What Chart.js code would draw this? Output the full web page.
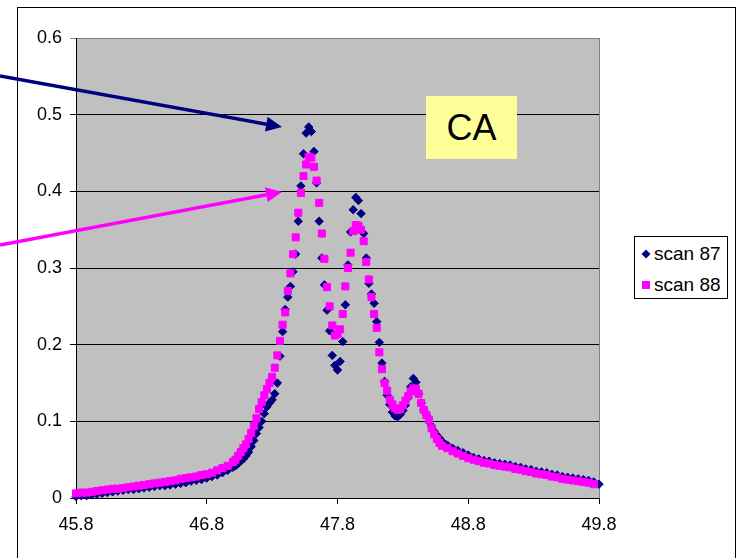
<!DOCTYPE html>
<html>
<head>
<meta charset="utf-8">
<script src="https://cdn.jsdelivr.net/npm/chart.js@4.4.0/dist/chart.umd.min.js"></script>
<style>
  body { margin: 0; background: #fff; width: 738px; height: 558px; overflow: hidden; position: relative; font-family: Arial, "Liberation Sans", sans-serif; }
  #frame { position: absolute; left: 17px; top: 7px; width: 719px; height: 600px; border: 1px solid #000; box-sizing: border-box; }
  #chart { position: absolute; left: 0; top: 0; }
  #caBox { position: absolute; left: 426px; top: 96px; width: 91px; height: 63px; background: #ffff99; font-size: 36px; line-height: 63px; text-align: center; color: #000; }
  #legend { position: absolute; left: 634px; top: 236px; width: 94px; height: 63px; border: 1px solid #000; box-sizing: border-box; background: #fff; font-size: 19px; color: #000; }
  #legend .item { position: absolute; left: 6px; height: 20px; line-height: 20px; white-space: nowrap; }
  #legend svg { vertical-align: middle; margin-right: 3px; position: relative; top: -1px; }
  #arrows { position: absolute; left: 0; top: 0; }
</style>
</head>
<body>
<div id="frame"></div>
<canvas id="chart" width="738" height="558"></canvas>
<div id="caBox">CA</div>
<div id="legend">
  <div class="item" style="top:7px"><svg width="10" height="10"><polygon points="5,0.5 9.5,5 5,9.5 0.5,5" fill="#000080"/></svg>scan 87</div>
  <div class="item" style="top:38px"><svg width="10" height="10"><rect x="1" y="1" width="8" height="8" fill="#ff00ff"/></svg>scan 88</div>
</div>
<svg id="arrows" width="738" height="558">
  <line x1="0" y1="76" x2="268" y2="124.5" stroke="#000080" stroke-width="3.5"/>
  <polygon points="282,127 265,131.6 267.6,116.8" fill="#000080"/>
  <line x1="0" y1="245" x2="268" y2="194.5" stroke="#ff00ff" stroke-width="3.5"/>
  <polygon points="282,192 267.7,202.1 264.9,187.3" fill="#ff00ff"/>
</svg>
<script>
// Ejes
const xTicks = [45.8, 46.8, 47.8, 48.8, 49.8];
const yTicks = [0, 0.1, 0.2, 0.3, 0.4, 0.5, 0.6];

// Posiciones (eje x)
const scan88X = [
  45.80, 45.84, 45.88, 45.92, 45.96, 46.00, 46.04, 46.08, 46.12, 46.16,
  46.20, 46.24, 46.28, 46.32, 46.36, 46.40, 46.44, 46.48, 46.52, 46.56,
  46.60, 46.64, 46.68, 46.72, 46.76, 46.80, 46.84, 46.88, 46.92, 46.96,
  47.00, 47.02, 47.04, 47.06, 47.08, 47.10, 47.12, 47.14, 47.16, 47.18,
  47.20, 47.22, 47.24, 47.26, 47.28, 47.30, 47.32, 47.34, 47.36, 47.38,
  47.40, 47.42, 47.44, 47.46, 47.48, 47.50, 47.52, 47.54, 47.56, 47.58,
  47.60, 47.62, 47.64, 47.66, 47.68, 47.70, 47.72, 47.74, 47.76, 47.78,
  47.80, 47.82, 47.84, 47.86, 47.88, 47.90, 47.92, 47.94, 47.96, 47.98,
  48.00, 48.02, 48.04, 48.06, 48.08, 48.10, 48.12, 48.14, 48.16, 48.18,
  48.20, 48.22, 48.24, 48.26, 48.28, 48.30, 48.32, 48.34, 48.36, 48.38,
  48.40, 48.42, 48.44, 48.46, 48.48, 48.50, 48.52, 48.54, 48.56, 48.58,
  48.60, 48.64, 48.68, 48.72, 48.76, 48.80, 48.84, 48.88, 48.92, 48.96,
  49.00, 49.04, 49.08, 49.12, 49.16, 49.20, 49.24, 49.28, 49.32, 49.36,
  49.40, 49.44, 49.48, 49.52, 49.56, 49.60, 49.64, 49.68, 49.72, 49.76
];
const scan87X = [...scan88X, 49.80];

// scan 88 (magenta)
const scan88Y = [
  0.006, 0.007, 0.007, 0.008, 0.009, 0.010, 0.011, 0.012, 0.012, 0.013,
  0.014, 0.015, 0.016, 0.017, 0.018, 0.019, 0.020, 0.021, 0.022, 0.023,
  0.025, 0.026, 0.027, 0.028, 0.030, 0.031, 0.033, 0.036, 0.039, 0.042,
  0.047, 0.050, 0.055, 0.060, 0.065, 0.070, 0.077, 0.085, 0.094, 0.104,
  0.116, 0.125, 0.134, 0.142, 0.150, 0.158, 0.170, 0.186, 0.205, 0.226,
  0.242, 0.270, 0.293, 0.318, 0.340, 0.372, 0.398, 0.420, 0.435, 0.445,
  0.444, 0.432, 0.414, 0.385, 0.345, 0.312, 0.275, 0.250, 0.225, 0.212,
  0.214, 0.220, 0.240, 0.276, 0.300, 0.320, 0.348, 0.356, 0.355, 0.350,
  0.335, 0.308, 0.285, 0.262, 0.240, 0.222, 0.190, 0.168, 0.150, 0.140,
  0.128, 0.122, 0.117, 0.115, 0.116, 0.121, 0.127, 0.133, 0.139, 0.143,
  0.142, 0.136, 0.124, 0.115, 0.108, 0.102, 0.091, 0.083, 0.077, 0.072,
  0.068, 0.065, 0.061, 0.058, 0.055, 0.052, 0.050, 0.048, 0.046, 0.045,
  0.043, 0.042, 0.041, 0.040, 0.038, 0.037, 0.035, 0.034, 0.032, 0.031,
  0.030, 0.028, 0.027, 0.025, 0.024, 0.023, 0.022, 0.021, 0.020, 0.018
];

// scan 87 (azul marino)
const scan87Y = [
  0.002, 0.003, 0.003, 0.004, 0.005, 0.006, 0.007, 0.008, 0.009, 0.010,
  0.011, 0.011, 0.012, 0.013, 0.014, 0.015, 0.016, 0.016, 0.017, 0.018,
  0.019, 0.020, 0.022, 0.023, 0.024, 0.026, 0.028, 0.030, 0.033, 0.036,
  0.040, 0.042, 0.045, 0.048, 0.051, 0.055, 0.060, 0.067, 0.075, 0.084,
  0.092, 0.100, 0.110, 0.119, 0.124, 0.128, 0.136, 0.150, 0.185, 0.217,
  0.246, 0.262, 0.276, 0.295, 0.318, 0.361, 0.407, 0.449, 0.476, 0.484,
  0.478, 0.452, 0.411, 0.361, 0.313, 0.278, 0.245, 0.218, 0.186, 0.173,
  0.167, 0.178, 0.204, 0.252, 0.304, 0.347, 0.376, 0.392, 0.388, 0.371,
  0.345, 0.313, 0.280, 0.266, 0.254, 0.230, 0.203, 0.176, 0.152, 0.134,
  0.122, 0.112, 0.107, 0.106, 0.109, 0.114, 0.121, 0.131, 0.145, 0.156,
  0.151, 0.136, 0.124, 0.115, 0.108, 0.100, 0.094, 0.087, 0.082, 0.078,
  0.074, 0.069, 0.065, 0.062, 0.059, 0.056, 0.053, 0.051, 0.049, 0.048,
  0.046, 0.045, 0.044, 0.043, 0.041, 0.040, 0.038, 0.037, 0.035, 0.034,
  0.033, 0.031, 0.030, 0.028, 0.027, 0.026, 0.025, 0.024, 0.023, 0.021,
  0.018
];

const toPoints = (xs, ys) => xs.map((x, i) => ({ x: x, y: ys[i] }));

// Fondo gris del area de trazado y borde derecho
const plotArea = {
  id: 'plotArea',
  beforeDraw(chart) {
    const { ctx, chartArea: a } = chart;
    ctx.save();
    ctx.fillStyle = '#c0c0c0';
    ctx.fillRect(a.left, a.top, a.right - a.left, a.bottom - a.top);
    ctx.restore();
  },
  beforeDatasetsDraw(chart) {
    const { ctx, chartArea: a } = chart;
    ctx.save();
    ctx.strokeStyle = '#808080';
    ctx.lineWidth = 1;
    ctx.beginPath();
    ctx.moveTo(a.right + 0.5, a.top);
    ctx.lineTo(a.right + 0.5, a.bottom);
    ctx.stroke();
    ctx.restore();
  }
};

const tickFont = { family: 'Arial, "Liberation Sans"', size: 18 };

new Chart(document.getElementById('chart').getContext('2d'), {
  type: 'scatter',
  data: {
    datasets: [{
      label: 'scan 87',
      data: toPoints(scan87X, scan87Y),
      pointStyle: 'rectRot',
      pointRadius: 4.2,
      backgroundColor: '#000080',
      borderColor: '#000080',
      borderWidth: 1,
      clip: false,
      order: 2
    }, {
      label: 'scan 88',
      data: toPoints(scan88X, scan88Y),
      pointStyle: 'rect',
      pointRadius: 5,
      backgroundColor: '#ff00ff',
      borderColor: '#ff00ff',
      borderWidth: 1,
      clip: false,
      order: 1
    }]
  },
  options: {
    responsive: false,
    devicePixelRatio: 1,
    animation: false,
    layout: { padding: { left: 0, right: 139, top: 38, bottom: 0 } },
    plugins: { legend: { display: false }, tooltip: { enabled: false } },
    scales: {
      x: {
        type: 'linear', min: 45.8, max: 49.8,
        afterBuildTicks: s => { s.ticks = xTicks.map(v => ({ value: v })); },
        afterFit: s => { s.height = 60; },
        grid: { drawOnChartArea: false, drawTicks: true, tickLength: 6, color: '#000' },
        border: { color: '#000', width: 1 },
        ticks: { color: '#000', font: tickFont, padding: 10, maxRotation: 0, callback: v => v.toFixed(1) }
      },
      y: {
        min: 0, max: 0.6,
        afterBuildTicks: s => { s.ticks = yTicks.map(v => ({ value: v })); },
        afterFit: s => { s.width = 76; },
        grid: { color: c => (c.tick && c.tick.value === 0.6) ? '#808080' : '#000', tickLength: 6 },
        border: { color: '#000', width: 1 },
        ticks: { color: '#000', font: tickFont, padding: 8, callback: v => String(+v.toFixed(1)) }
      }
    }
  },
  plugins: [plotArea]
});
</script>
</body>
</html>
